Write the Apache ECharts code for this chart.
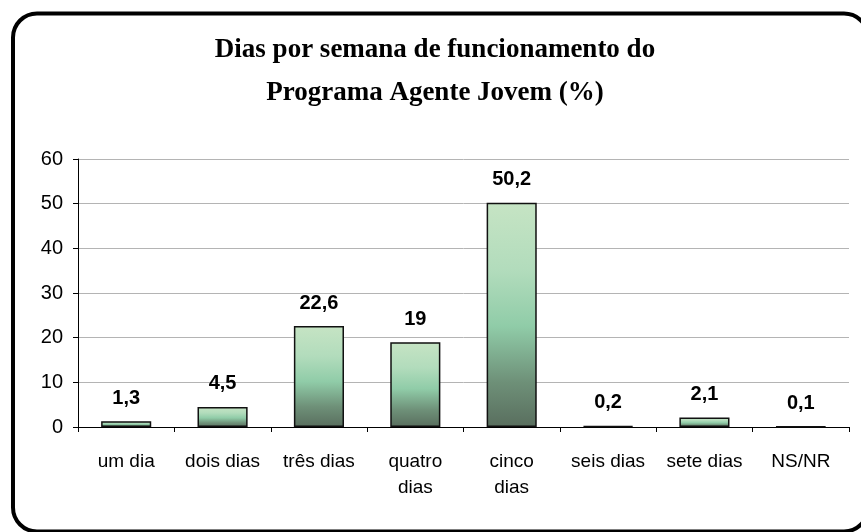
<!DOCTYPE html>
<html>
<head>
<meta charset="utf-8">
<script src="https://cdn.jsdelivr.net/npm/echarts@6/dist/echarts.min.js"></script>
<style>
  html, body { margin: 0; padding: 0; background: #fff; }
  #chart { width: 861px; height: 532px; }
</style>
</head>
<body>
<div id="chart"></div>
<script>
const categories = ['um dia', 'dois dias', 'três dias', 'quatro\ndias', 'cinco\ndias', 'seis dias', 'sete dias', 'NS/NR'];
const valores = [1.3, 4.5, 22.6, 19, 50.2, 0.2, 2.1, 0.1];
const yTicks = [0, 10, 20, 30, 40, 50, 60];

const chart = echarts.init(document.getElementById('chart'));

const option = {
  animation: false,
  backgroundColor: '#fff',
  graphic: [
    {
      // moldura arredondada (lado direito e base cortados pela imagem)
      type: 'rect',
      shape: { x: 13, y: 13.5, width: 855, height: 518, r: 24 },
      style: { fill: 'none', stroke: '#000', lineWidth: 4 },
      silent: true
    }
  ],
  title: {
    text: 'Dias por semana de funcionamento do\nPrograma Agente Jovem (%)',
    left: 430,
    top: 24,
    textAlign: 'center',
    textStyle: {
      fontFamily: 'Liberation Serif',
      fontWeight: 'bold',
      fontSize: 27,
      lineHeight: 43,
      color: '#000'
    }
  },
  grid: {
    left: 78,
    right: 12,
    top: 159,
    bottom: 105
  },
  xAxis: {
    type: 'category',
    data: categories,
    axisLine: { lineStyle: { color: '#000', width: 1 } },
    axisTick: { show: true, length: 5, lineStyle: { color: '#000' } },
    axisLabel: {
      interval: 0,
      margin: 22,
      fontFamily: 'Liberation Sans',
      fontSize: 19,
      lineHeight: 26,
      color: '#000'
    }
  },
  yAxis: {
    type: 'value',
    min: yTicks[0],
    max: yTicks[yTicks.length - 1],
    interval: 10,
    axisLine: { show: true, lineStyle: { color: '#000', width: 1 } },
    axisTick: { show: true, length: 5, lineStyle: { color: '#000' } },
    axisLabel: {
      margin: 15,
      fontFamily: 'Liberation Sans',
      fontSize: 20,
      color: '#000'
    },
    splitLine: { lineStyle: { color: '#b4b4b4', width: 1 } }
  },
  series: [
    {
      type: 'bar',
      data: valores,
      barWidth: '52%',
      itemStyle: {
        borderColor: '#111',
        borderWidth: 1.5,
        color: new echarts.graphic.LinearGradient(0, 0, 0, 1, [
          { offset: 0, color: '#c6e4c4' },
          { offset: 0.3, color: '#b2dcbc' },
          { offset: 0.55, color: '#90cca8' },
          { offset: 0.8, color: '#6e9078' },
          { offset: 1, color: '#596e5e' }
        ])
      },
      label: {
        show: true,
        position: 'top',
        distance: 13,
        fontFamily: 'Liberation Sans',
        fontWeight: 'bold',
        fontSize: 20,
        color: '#000',
        formatter: p => String(p.value).replace('.', ',')
      }
    }
  ]
};

chart.setOption(option);
</script>
</body>
</html>
